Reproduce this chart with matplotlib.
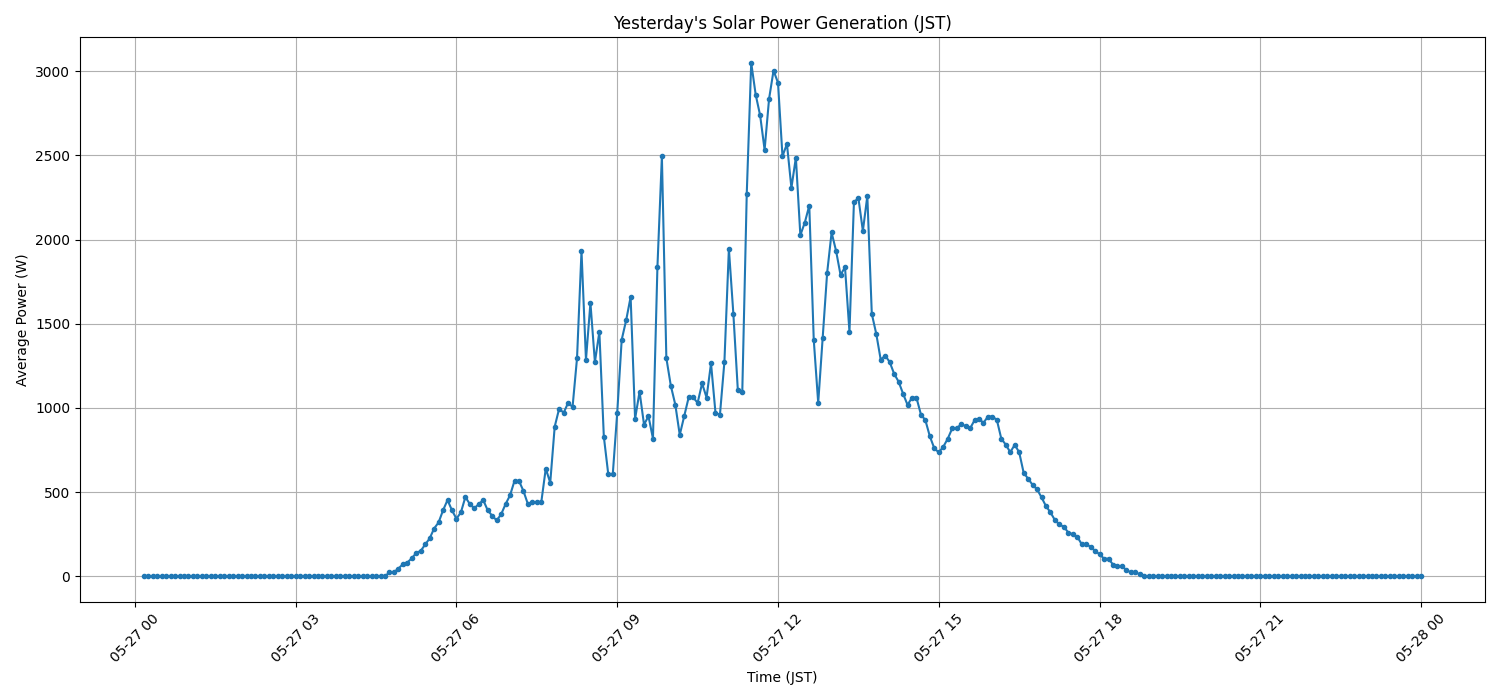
import pandas as pd
import matplotlib
matplotlib.use('Agg')
import matplotlib.pyplot as plt
import matplotlib.dates as mdates

# 5-minute averages, first sample 00:10, last sample 00:00 next day
start_time = '2024-05-27 00:10'
n_samples = 287

# night before sunrise (00:10 - 04:40)
night_am = [
    0, 0, 0, 0, 0, 0, 0, 0, 0, 0, 0,
    0, 0, 0, 0, 0, 0, 0, 0, 0, 0, 0,
    0, 0, 0, 0, 0, 0, 0, 0, 0, 0, 0,
    0, 0, 0, 0, 0, 0, 0, 0, 0, 0, 0,
    0, 0, 0, 0, 0, 0, 0, 0, 0, 0, 0,
]

# daylight (04:45 - 18:45)
daylight = [
    24, 24, 46, 72, 82, 107, 139, 151, 189, 225,
    284, 320, 392, 453, 392, 342, 380, 471, 429, 404,
    429, 453, 392, 360, 332, 368, 429, 481, 567, 567,
    507, 429, 441, 441, 441, 640, 556, 889, 996, 971,
    1030, 1006, 1296, 1932, 1286, 1624, 1272, 1452, 830, 605,
    605, 972, 1405, 1521, 1659, 935, 1097, 901, 951, 818,
    1837, 2494, 1296, 1132, 1020, 840, 951, 1063, 1063, 1030,
    1146, 1062, 1265, 971, 960, 1274, 1945, 1560, 1108, 1095,
    2271, 3050, 2861, 2737, 2533, 2836, 3004, 2931, 2495, 2568,
    2307, 2487, 2026, 2101, 2202, 1406, 1030, 1416, 1802, 2042,
    1933, 1790, 1836, 1451, 2222, 2247, 2051, 2259, 1559, 1440,
    1286, 1311, 1273, 1203, 1156, 1085, 1018, 1061, 1061, 961,
    927, 831, 760, 736, 769, 817, 878, 878, 904, 892,
    878, 927, 937, 911, 949, 949, 929, 817, 782, 737,
    781, 737, 615, 580, 543, 517, 469, 417, 380, 334,
    308, 294, 260, 250, 235, 191, 191, 175, 151, 131,
    105, 105, 70, 60, 62, 36, 24, 24, 12,
]

# night after sunset (18:50 - 00:00)
night_pm = [
    0, 0, 0, 0, 0, 0, 0, 0, 0,
    0, 0, 0, 0, 0, 0, 0, 0, 0,
    0, 0, 0, 0, 0, 0, 0, 0, 0,
    0, 0, 0, 0, 0, 0, 0, 0, 0,
    0, 0, 0, 0, 0, 0, 0, 0, 0,
    0, 0, 0, 0, 0, 0, 0, 0, 0,
    0, 0, 0, 0, 0, 0, 0, 0, 0,
]

power = night_am + daylight + night_pm
times = pd.date_range(start_time, periods=n_samples, freq='5min')
data = pd.DataFrame({'Power': power}, index=times)

fig, ax = plt.subplots(figsize=(15, 7), dpi=100)
ax.plot(data.index, data['Power'], marker='o', markersize=3, color='#1f77b4')
ax.set_title("Yesterday's Solar Power Generation (JST)")
ax.set_xlabel('Time (JST)')
ax.set_ylabel('Average Power (W)')
ax.xaxis.set_major_locator(mdates.HourLocator(byhour=range(0, 24, 3)))
ax.xaxis.set_major_formatter(mdates.DateFormatter('%m-%d %H'))
plt.setp(ax.get_xticklabels(), rotation=45)
ax.grid(True)
fig.subplots_adjust(left=0.0533, right=0.99, top=0.947, bottom=0.14)
fig.savefig('out.png')
